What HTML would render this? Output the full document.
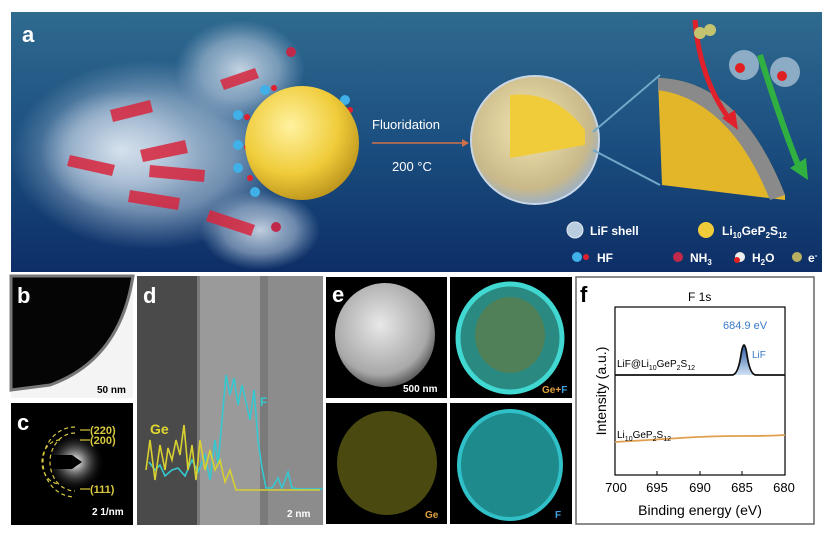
<!DOCTYPE html>
<html><head><meta charset="utf-8"><style>
html,body{margin:0;padding:0;background:#fff;}
svg{display:block;font-family:"Liberation Sans",sans-serif;}
</style></head><body>
<svg width="831" height="539" viewBox="0 0 831 539" xmlns="http://www.w3.org/2000/svg">
<defs>
<linearGradient id="bg" x1="0" y1="0" x2="0" y2="1">
<stop offset="0" stop-color="#2f6a8f"/><stop offset="0.5" stop-color="#1b4f80"/><stop offset="1" stop-color="#0d2e66"/></linearGradient>
<radialGradient id="ys" cx="0.4" cy="0.35" r="0.7"><stop offset="0" stop-color="#fff2a0"/><stop offset="0.6" stop-color="#f0cc3a"/><stop offset="1" stop-color="#b8901a"/></radialGradient>
<radialGradient id="shell" cx="0.45" cy="0.4" r="0.6"><stop offset="0" stop-color="#f3e6b0"/><stop offset="0.8" stop-color="#c9b98a"/><stop offset="1" stop-color="#9fb0c0"/></radialGradient>
<radialGradient id="smoke" cx="0.5" cy="0.5" r="0.5"><stop offset="0" stop-color="#dfe8f2" stop-opacity="0.85"/><stop offset="0.6" stop-color="#b8cade" stop-opacity="0.55"/><stop offset="1" stop-color="#9fb6cf" stop-opacity="0"/></radialGradient>
<radialGradient id="sem" cx="0.45" cy="0.4" r="0.6"><stop offset="0" stop-color="#e8e8e8"/><stop offset="0.8" stop-color="#a8a8a8"/><stop offset="1" stop-color="#606060"/></radialGradient>
<radialGradient id="saed" cx="0.5" cy="0.5" r="0.5"><stop offset="0" stop-color="#fff"/><stop offset="0.3" stop-color="#888"/><stop offset="1" stop-color="#000" stop-opacity="0"/></radialGradient>
<linearGradient id="peak" x1="0" y1="0" x2="0" y2="1"><stop offset="0" stop-color="#2b5fa8"/><stop offset="1" stop-color="#cfe0f3"/></linearGradient>
</defs>
<!-- panel a -->
<rect x="11" y="12" width="811" height="260" fill="url(#bg)"/>
<ellipse cx="150" cy="155" rx="140" ry="95" fill="url(#smoke)"/>
<ellipse cx="240" cy="70" rx="65" ry="50" fill="url(#smoke)"/>
<ellipse cx="260" cy="230" rx="60" ry="40" fill="url(#smoke)"/>
<ellipse cx="120" cy="150" rx="80" ry="60" fill="url(#smoke)"/>
<g fill="#d8263d" opacity="0.85">
<polygon points="220,80 255,68 259,78 224,90"/>
<polygon points="110,110 150,100 153,112 113,122"/>
<polygon points="140,150 185,140 188,153 143,162"/>
<polygon points="70,155 115,165 112,176 67,166"/>
<polygon points="150,165 205,170 204,182 149,177"/>
<polygon points="130,190 180,198 178,210 128,202"/>
<polygon points="210,210 255,225 251,236 206,221"/>
</g>
<circle cx="291" cy="52" r="5" fill="#c0294a"/><circle cx="276" cy="227" r="5" fill="#c0294a"/>
<g fill="#3fb0e8"><circle cx="265" cy="90" r="5"/><circle cx="238" cy="115" r="5"/><circle cx="238" cy="145" r="5"/><circle cx="238" cy="168" r="5"/><circle cx="255" cy="192" r="5"/><circle cx="345" cy="100" r="5"/></g>
<g fill="#e02030"><circle cx="274" cy="88" r="3"/><circle cx="247" cy="117" r="3"/><circle cx="247" cy="147" r="3"/><circle cx="250" cy="178" r="3"/><circle cx="350" cy="110" r="3"/></g>
<circle cx="302" cy="143" r="57" fill="url(#ys)"/>
<text x="372" y="129" font-size="13" fill="#fff">Fluoridation</text>
<line x1="372" y1="143" x2="462" y2="143" stroke="#d0704a" stroke-width="1.5"/>
<polygon points="462,139 469,143 462,147" fill="#d0704a"/>
<text x="392" y="171" font-size="13" fill="#fff">200 °C</text>
<circle cx="535" cy="140" r="64" fill="url(#shell)" stroke="#c8d6e6" stroke-width="2"/>
<path d="M510,158 L510,95 Q555,90 585,130 L585,145 Z" fill="#f0cc3a"/>
<line x1="593" y1="132" x2="660" y2="75" stroke="#6fa8c8" stroke-width="2"/>
<line x1="593" y1="150" x2="660" y2="185" stroke="#6fa8c8" stroke-width="2"/>
<path d="M658,78 Q740,80 785,195 L785,200 L662,185 Z" fill="#e2b628"/>
<path d="M658,78 Q740,80 785,195 L770,200 Q730,100 658,90 Z" fill="#8a8a8a"/>
<path d="M695,20 Q700,80 730,120" stroke="#e0202a" stroke-width="5" fill="none"/>
<polygon points="722,118 738,130 735,110" fill="#e0202a"/>
<path d="M760,55 Q780,120 800,170" stroke="#30b040" stroke-width="6" fill="none"/>
<polygon points="790,168 808,180 806,158" fill="#30b040"/>
<circle cx="700" cy="33" r="6" fill="#c4c470"/><circle cx="710" cy="30" r="6" fill="#c4c470"/>
<circle cx="744" cy="65" r="15" fill="#b8cde0" opacity="0.7"/><circle cx="785" cy="72" r="15" fill="#b8cde0" opacity="0.7"/>
<circle cx="740" cy="68" r="5" fill="#e02020"/><circle cx="782" cy="76" r="5" fill="#e02020"/>
<circle cx="575" cy="230" r="8" fill="#b8cde0" stroke="#e0e8f0"/>
<text x="590" y="235" font-size="12" font-weight="bold" fill="#fff">LiF shell</text>
<circle cx="706" cy="230" r="8" fill="#f0cc3a"/>
<text x="722" y="235" font-size="12" font-weight="bold" fill="#fff">Li<tspan font-size="8" dy="3">10</tspan><tspan dy="-3">GeP</tspan><tspan font-size="8" dy="3">2</tspan><tspan dy="-3">S</tspan><tspan font-size="8" dy="3">12</tspan></text>
<circle cx="577" cy="257" r="5" fill="#3fb0e8"/><circle cx="586" cy="257" r="3" fill="#e02030"/>
<text x="597" y="262" font-size="12" font-weight="bold" fill="#fff">HF</text>
<circle cx="678" cy="257" r="5" fill="#c0294a"/>
<text x="690" y="262" font-size="12" font-weight="bold" fill="#fff">NH<tspan font-size="8" dy="3">3</tspan></text>
<circle cx="740" cy="257" r="5" fill="#eee"/><circle cx="737" cy="260" r="3" fill="#e02020"/>
<text x="752" y="262" font-size="12" font-weight="bold" fill="#fff">H<tspan font-size="8" dy="3">2</tspan><tspan dy="-3">O</tspan></text>
<circle cx="797" cy="257" r="5" fill="#b8b060"/>
<text x="808" y="262" font-size="12" font-weight="bold" fill="#fff">e<tspan font-size="8" dy="-4">-</tspan></text>
<text x="22" y="42" font-size="22" font-weight="bold" fill="#fff">a</text>
<!-- panel b -->
<rect x="11" y="276" width="122" height="122" fill="#f4f4f4"/>
<path d="M11,276 L133,276 Q120,360 50,385 L11,390 Z" fill="#050505" stroke="#777" stroke-width="3"/>
<text x="17" y="303" font-size="22" font-weight="bold" fill="#fff">b</text>
<text x="97" y="393" font-size="10" font-weight="bold" fill="#000">50 nm</text>
<!-- panel c -->
<rect x="11" y="403" width="122" height="122" fill="#000"/>
<circle cx="75" cy="462" r="30" fill="url(#saed)"/>
<polygon points="11,455 72,455 82,462 72,469 11,469" fill="#000"/>
<g fill="none" stroke="#d8c840" stroke-width="1.2" stroke-dasharray="4,3">
<path d="M75,427 A32,35 0 0 0 75,497"/><path d="M75,433 A25,29 0 0 0 75,491"/><path d="M60,440 A18,22 0 0 0 60,484"/></g>
<g stroke="#d8c840" stroke-width="1.2"><line x1="80" y1="430" x2="90" y2="430"/><line x1="80" y1="440" x2="90" y2="440"/><line x1="80" y1="489" x2="90" y2="489"/></g>
<g font-size="11" fill="#d8c840" font-weight="bold"><text x="90" y="434">(220)</text><text x="90" y="444">(200)</text><text x="90" y="493">(111)</text></g>
<text x="17" y="430" font-size="22" font-weight="bold" fill="#fff">c</text>
<text x="92" y="515" font-size="10" font-weight="bold" fill="#fff">2 1/nm</text>
<!-- panel d -->
<rect x="137" y="276" width="186" height="249" fill="#7a7a7a"/>
<rect x="137" y="276" width="60" height="249" fill="#4a4a4a"/>
<rect x="200" y="276" width="60" height="249" fill="#9a9a9a"/>
<rect x="268" y="276" width="55" height="249" fill="#8c8c8c"/>
<polyline fill="none" stroke="#35c8d0" stroke-width="1.6" points="149,462 155,470 160,465 165,476 172,470 178,468 185,476 192,460 198,472 205,455 210,480 215,440 218,465 222,420 226,375 230,395 234,378 238,405 242,385 246,402 250,420 254,390 258,440 262,468 266,488 272,488 278,478 282,488 288,472 292,488 300,489 323,489"/>
<polyline fill="none" stroke="#d8d030" stroke-width="1.6" points="146,470 150,440 155,480 160,445 165,470 168,448 172,460 176,440 180,455 184,425 188,470 192,445 196,480 200,440 205,470 210,450 215,470 220,460 225,482 230,470 236,490 245,490 260,490 280,490 320,490"/>
<text x="150" y="434" font-size="14" font-weight="bold" fill="#e0d830">Ge</text>
<text x="260" y="406" font-size="12" font-weight="bold" fill="#35c8d0">F</text>
<text x="143" y="303" font-size="22" font-weight="bold" fill="#fff">d</text>
<text x="287" y="517" font-size="10" font-weight="bold" fill="#fff">2 nm</text>
<!-- panel e -->
<rect x="326" y="277" width="121" height="121" fill="#000"/>
<ellipse cx="385" cy="335" rx="50" ry="52" fill="url(#sem)"/>
<text x="332" y="302" font-size="22" font-weight="bold" fill="#fff">e</text>
<text x="403" y="392" font-size="10" font-weight="bold" fill="#fff">500 nm</text>
<rect x="450" y="277" width="122" height="121" fill="#000"/>
<ellipse cx="510" cy="338" rx="52" ry="54" fill="#2a8a82" stroke="#40d8d0" stroke-width="5"/>
<ellipse cx="510" cy="335" rx="35" ry="38" fill="#6a7a3a" opacity="0.6"/>
<text x="542" y="393" font-size="10" font-weight="bold" fill="#e0a040">Ge+<tspan fill="#40a0e0">F</tspan></text>
<rect x="326" y="403" width="121" height="121" fill="#000"/>
<ellipse cx="387" cy="463" rx="50" ry="52" fill="#4a4a10"/>
<text x="425" y="518" font-size="10" font-weight="bold" fill="#e0a040">Ge</text>
<rect x="450" y="403" width="122" height="121" fill="#000"/>
<ellipse cx="510" cy="465" rx="51" ry="54" fill="#1f8a8c" stroke="#30c0c8" stroke-width="4"/>
<text x="555" y="518" font-size="10" font-weight="bold" fill="#40a0e0">F</text>
<!-- panel f -->
<rect x="576" y="277" width="238" height="247" fill="#fff" stroke="#666" stroke-width="1.5"/>
<text x="580" y="302" font-size="22" font-weight="bold" fill="#000">f</text>
<text x="688" y="301" font-size="12" fill="#000">F 1s</text>
<rect x="615" y="307" width="170" height="168" fill="none" stroke="#000" stroke-width="1.2"/>
<path d="M732,375 Q738,375 741,355 Q744,335 747,355 Q750,375 756,375 Z" fill="url(#peak)"/>
<path d="M615,375 L732,375 Q738,375 741,355 Q744,335 747,355 Q750,375 756,375 L785,375" fill="none" stroke="#111" stroke-width="1.8"/>
<path d="M615,442 Q650,440 680,438 T740,436 785,435" fill="none" stroke="#e0a050" stroke-width="1.8"/>
<text x="723" y="329" font-size="11" fill="#3a7ac8">684.9 eV</text>
<text x="752" y="358" font-size="10" fill="#3a7ac8">LiF</text>
<text x="617" y="367" font-size="10" fill="#000">LiF@Li<tspan font-size="7" dy="3">10</tspan><tspan dy="-3">GeP</tspan><tspan font-size="7" dy="3">2</tspan><tspan dy="-3">S</tspan><tspan font-size="7" dy="3">12</tspan></text>
<text x="617" y="438" font-size="10" fill="#000">Li<tspan font-size="7" dy="3">10</tspan><tspan dy="-3">GeP</tspan><tspan font-size="7" dy="3">2</tspan><tspan dy="-3">S</tspan><tspan font-size="7" dy="3">12</tspan></text>
<g stroke="#000" stroke-width="1"><line x1="657" y1="475" x2="657" y2="471"/><line x1="700" y1="475" x2="700" y2="471"/><line x1="742" y1="475" x2="742" y2="471"/></g>
<g font-size="13" fill="#000" text-anchor="middle"><text x="616" y="492">700</text><text x="657" y="492">695</text><text x="700" y="492">690</text><text x="742" y="492">685</text><text x="784" y="492">680</text></g>
<text x="700" y="515" font-size="14" fill="#000" text-anchor="middle">Binding energy (eV)</text>
<text transform="translate(606,391) rotate(-90)" font-size="14" fill="#000" text-anchor="middle">Intensity (a.u.)</text>
</svg>
</body></html>
